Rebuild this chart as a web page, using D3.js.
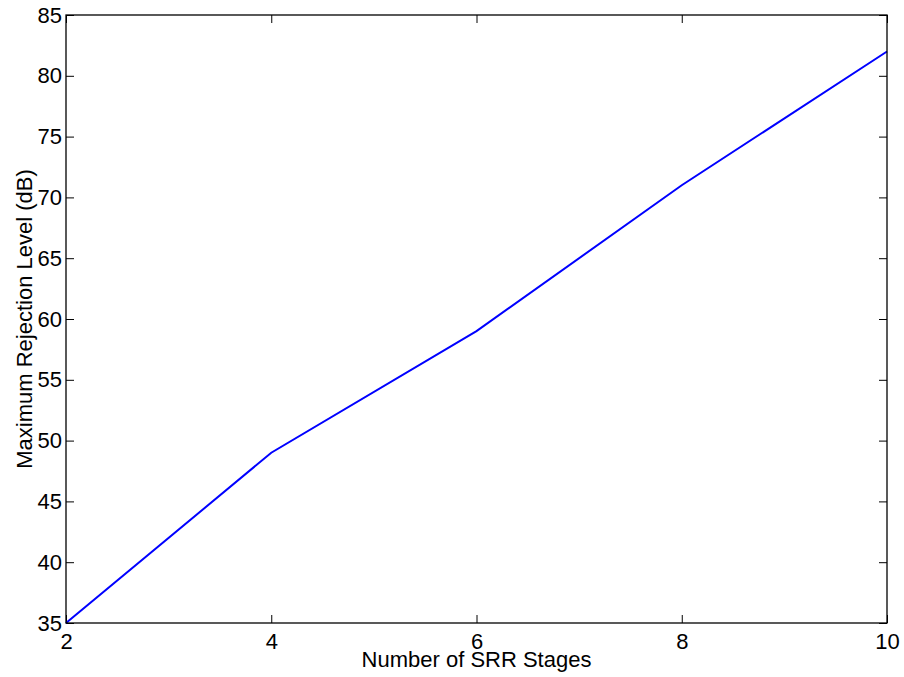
<!DOCTYPE html>
<html>
<head>
<meta charset="utf-8">
<style>
    body { margin: 0; background: #fff; }
    text { font-family: "Liberation Sans", Arial, sans-serif; fill: #000; }
</style>
</head>
<body>
<svg id="chart" width="904" height="677"></svg>

<script src="https://d3js.org/d3.v7.min.js"></script>
<script>
    var stages = [2, 4, 6, 8, 10]
    var rejection = [35, 49, 59, 71, 82]
    var xTicks = [2, 4, 6, 8, 10]
    var yTicks = [35, 40, 45, 50, 55, 60, 65, 70, 75, 80, 85]

    var svg = d3.select('#chart')
    var plotLeft = 66, plotRight = 887, plotTop = 15, plotBottom = 623
    var tick = 8
    var fontSize = 22

    var x = d3.scaleLinear().domain([2, 10]).range([plotLeft, plotRight])
    var y = d3.scaleLinear().domain([35, 85]).range([plotBottom, plotTop])

    // bottom + top ticks, pointing inward
    svg.append('g')
        .attr('transform', 'translate(0,' + plotBottom + ')')
        .call(d3.axisBottom(x).tickValues(xTicks).tickSizeInner(-tick).tickSizeOuter(0).tickPadding(10))
    svg.append('g')
        .attr('transform', 'translate(0,' + plotTop + ')')
        .call(d3.axisTop(x).tickValues(xTicks).tickSizeInner(-tick).tickSizeOuter(0).tickFormat(''))

    // left + right ticks
    svg.append('g')
        .attr('transform', 'translate(' + plotLeft + ',0)')
        .call(d3.axisLeft(y).tickValues(yTicks).tickSizeInner(-tick).tickSizeOuter(0).tickPadding(4))
    svg.append('g')
        .attr('transform', 'translate(' + plotRight + ',0)')
        .call(d3.axisRight(y).tickValues(yTicks).tickSizeInner(-tick).tickSizeOuter(0).tickFormat(''))

    svg.selectAll('.domain').remove()
    svg.selectAll('.tick line').attr('stroke', '#000')
    svg.selectAll('.tick text').attr('font-size', fontSize).attr('font-family', '"Liberation Sans", Arial, sans-serif')

    var line = d3.line()
        .x(function(d, i) { return x(stages[i]) })
        .y(function(d) { return y(d) })

    svg.append('path')
        .datum(rejection)
        .attr('d', line)
        .attr('fill', 'none')
        .attr('stroke', '#0000ff')
        .attr('stroke-width', 2)

    svg.append('rect')
        .attr('x', plotLeft).attr('y', plotTop)
        .attr('width', plotRight - plotLeft).attr('height', plotBottom - plotTop)
        .attr('fill', 'none').attr('stroke', '#000').attr('stroke-width', 1.3)

    svg.append('text')
        .attr('x', (plotLeft + plotRight) / 2).attr('y', 667)
        .attr('text-anchor', 'middle').attr('font-size', fontSize)
        .text('Number of SRR Stages')

    svg.append('text')
        .attr('transform', 'translate(32,' + (plotTop + plotBottom) / 2 + ') rotate(-90)')
        .attr('text-anchor', 'middle').attr('font-size', fontSize)
        .text('Maximum Rejection Level (dB)')
</script>
</body>
</html>
